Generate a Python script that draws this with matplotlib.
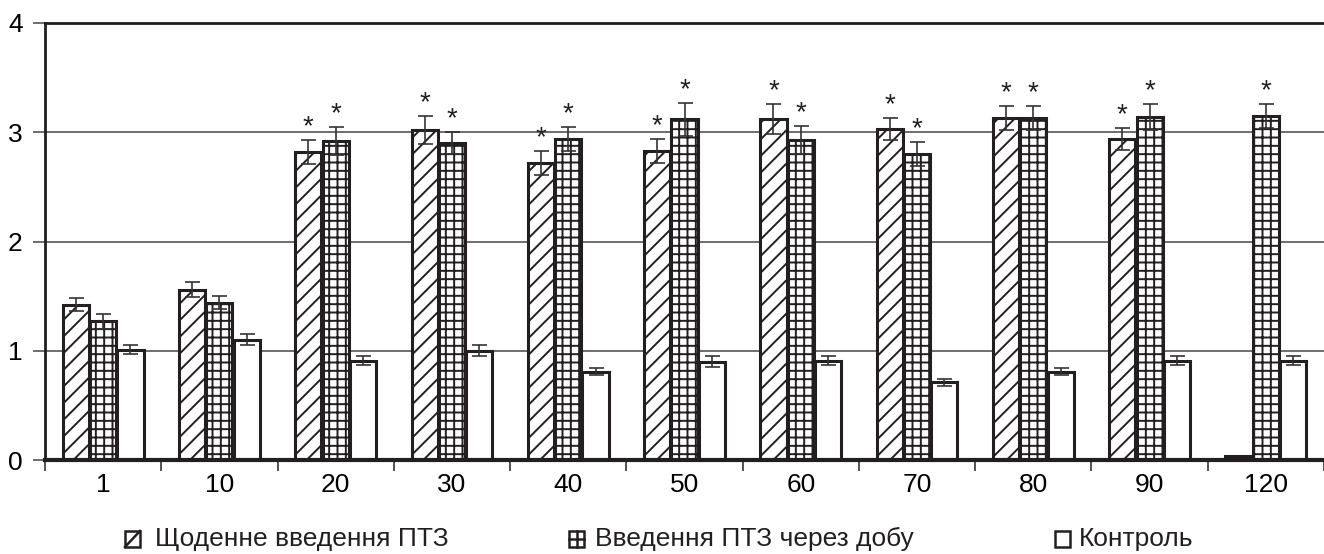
import numpy as np
import matplotlib
matplotlib.use("Agg")
import matplotlib.pyplot as plt
from matplotlib.patches import Rectangle
from matplotlib.lines import Line2D

plt.rcParams.update({
    "font.family": ["Liberation Sans", "DejaVu Sans"],
    "font.size": 19,
    "hatch.linewidth": 1.4,
    "hatch.color": "#231f20",
})

# Дані (день спостереження, середнє значення, похибка)
days = ["1", "10", "20", "30", "40", "50", "60", "70", "80", "90", "120"]
daily = [1.42, 1.56, 2.82, 3.02, 2.72, 2.83, 3.12, 3.03, 3.13, 2.94, 0.04]
daily_err = [0.06, 0.07, 0.11, 0.13, 0.11, 0.11, 0.14, 0.10, 0.11, 0.10, 0.0]
alt = [1.27, 1.44, 2.92, 2.90, 2.94, 3.12, 2.93, 2.80, 3.13, 3.14, 3.15]
alt_err = [0.07, 0.06, 0.13, 0.10, 0.11, 0.15, 0.13, 0.11, 0.11, 0.12, 0.11]
control = [1.01, 1.10, 0.91, 1.00, 0.81, 0.90, 0.91, 0.71, 0.81, 0.91, 0.91]
control_err = [0.04, 0.05, 0.04, 0.05, 0.03, 0.05, 0.04, 0.03, 0.03, 0.04, 0.04]
daily_sig = [False, False, True, True, True, True, True, True, True, True, False]
alt_sig = [False, False, True, True, True, True, True, True, True, True, True]

labels = ["Щоденне введення ПТЗ", "Введення ПТЗ через добу", "Контроль"]

ink = "#231f20"
W, H = 1324, 554
x = np.arange(len(days))
w = 0.225
step = 0.235

fig = plt.figure(figsize=(W / 100, H / 100), dpi=100)
ax = fig.add_axes([45 / W, 94 / H, 1 - 45 / W, 437 / H])

series = [
    (daily, daily_err, daily_sig, "//", -step),
    (alt, alt_err, alt_sig, "++", 0.0),
    (control, control_err, None, "", step),
]
for vals, errs, sig, hatch, off in series:
    ax.bar(x + off, vals, width=w, facecolor="white", edgecolor=ink,
           linewidth=2.2, hatch=hatch, zorder=2)
    vals_a = np.array(vals)
    errs_a = np.array(errs)
    mask = errs_a > 0
    ax.errorbar((x + off)[mask], vals_a[mask], yerr=errs_a[mask],
                fmt="none", ecolor="#333333", elinewidth=1.2, capsize=5.4,
                capthick=1.2, zorder=3)
    if sig is not None:
        for xi, v, e, s in zip(x + off, vals, errs, sig):
            if s:
                ax.annotate("*", (xi, v + e), xytext=(0, 4),
                            textcoords="offset points", ha="center",
                            va="baseline", fontsize=20, color=ink, zorder=4)

ax.set_xlim(-0.5, len(days) - 0.5)
ax.set_ylim(0, 4)
ax.set_yticks([0, 1, 2, 3, 4])
ax.yaxis.grid(True, color="#555555", linewidth=1.2, zorder=0)
ax.set_axisbelow(True)

ax.set_xticks(np.arange(-0.5, len(days)), labels=[""] * (len(days) + 1))
ax.set_xticks(x, labels=days, minor=True)
ax.tick_params(axis="x", which="major", length=8, width=1.2, color="#333333", direction="out")
ax.tick_params(axis="x", which="minor", length=0, pad=9)
ax.tick_params(axis="y", length=9, width=1.2, color="#555555", pad=7)

ax.spines["right"].set_visible(False)
ax.spines["top"].set_color(ink)
ax.spines["top"].set_linewidth(2)
ax.spines["left"].set_color(ink)
ax.spines["left"].set_linewidth(2)
ax.spines["bottom"].set_color(ink)
ax.spines["bottom"].set_linewidth(3)
ax.spines["bottom"].set_zorder(5)


# Легенда під графіком (значки малюються вручну, у пікселях фігури)
def fx(px):
    return px / W


def fy(py):
    return 1 - py / H


def legend_box(x0, kind, text, text_x):
    y0, y1, x1 = 531, 547, x0 + 15
    fig.add_artist(Rectangle((fx(x0), fy(y1)), fx(x1) - fx(x0), fy(y0) - fy(y1),
                             transform=fig.transFigure, facecolor="white",
                             edgecolor=ink, linewidth=1.8))
    if kind == "diag":
        fig.add_artist(Line2D([fx(x0), fx(x1)], [fy(y1), fy(y0)],
                              transform=fig.transFigure, color=ink, linewidth=1.8))
    elif kind == "grid":
        xm, ym = (x0 + x1) / 2, (y0 + y1) / 2
        fig.add_artist(Line2D([fx(xm), fx(xm)], [fy(y0), fy(y1)],
                              transform=fig.transFigure, color=ink, linewidth=1.8))
        fig.add_artist(Line2D([fx(x0), fx(x1)], [fy(ym), fy(ym)],
                              transform=fig.transFigure, color=ink, linewidth=1.8))
    fig.text(fx(text_x), fy(539), text, ha="left", va="center", fontsize=19, color=ink)


legend_box(125, "diag", labels[0], 155)
legend_box(569, "grid", labels[1], 595)
legend_box(1055, "plain", labels[2], 1079)

fig.savefig("out.png", dpi=100)
